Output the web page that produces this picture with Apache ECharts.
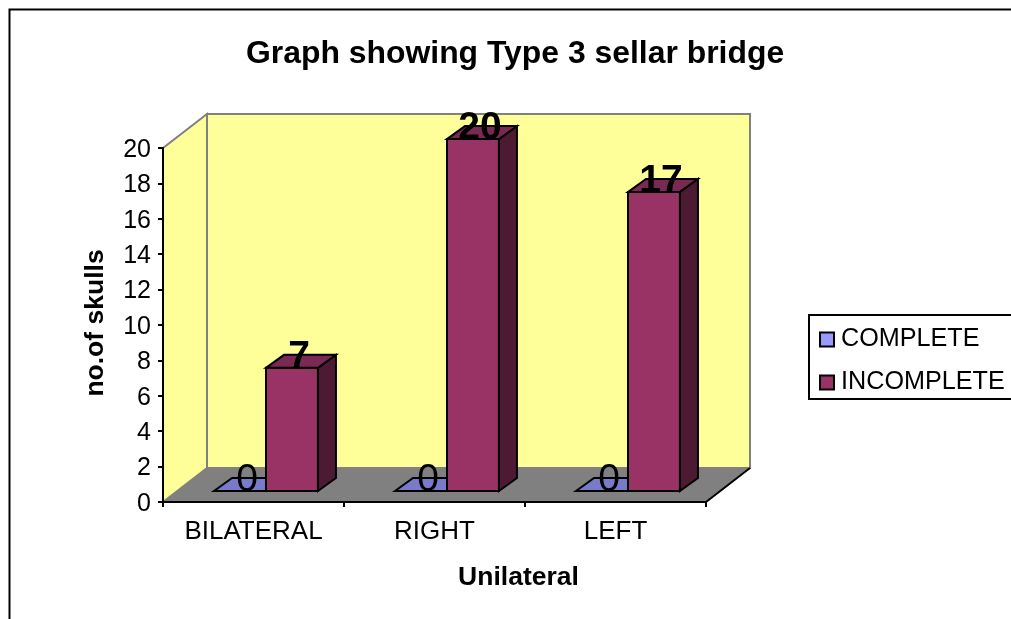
<!DOCTYPE html>
<html lang="en">

<head>
  <meta charset="UTF-8">
  <script src="https://cdn.jsdelivr.net/npm/echarts@6/dist/echarts.min.js"></script>
  <title>Type 3 sellar bridge</title>
  <style>
    html, body { margin: 0; padding: 0; background: #fff; }
    .container { width: 1011px; height: 619px; }
  </style>
</head>

<body>
  <div class="container"></div>

  <script>
    const categories = ["BILATERAL", "RIGHT", "LEFT"];
    const completeValues = [0, 0, 0];
    const incompleteValues = [7, 20, 17];
    const yTicks = { min: 0, max: 20, interval: 2 };

    const font = "Liberation Sans";
    // depth of the fake 3D box, in pixels
    const wallDx = 44, wallDy = -34;
    const barShiftX = 12.5, barShiftY = -11;
    const barDx = 18, barDy = -13;
    const barBand = 0.287;
    // bars stand further back than the axis, so they come out a little shorter
    const barScale = 0.994;

    const poly = (points, fill, stroke, z2) => ({
      type: "polygon",
      z2: z2 || 0,
      shape: { points },
      style: { fill, stroke: stroke || "none", lineWidth: 2, lineJoin: "miter" },
    });

    const renderWalls = (params) => {
      const g = params.coordSys;
      const l = g.x, r = g.x + g.width, t = g.y, b = g.y + g.height;
      return {
        type: "group",
        children: [
          poly([[l + wallDx, t + wallDy], [r + wallDx, t + wallDy], [r + wallDx, b + wallDy], [l + wallDx, b + wallDy]], "#FFFF99", "#808080"),
          poly([[l, t], [l + wallDx, t + wallDy], [l + wallDx, b + wallDy], [l, b]], "#FFFF99", "#808080"),
          poly([[l, b], [l + wallDx, b + wallDy], [r + wallDx, b + wallDy], [r, b]], "#808080", "none"),
          { type: "line", shape: { x1: r, y1: b, x2: r + wallDx, y2: b + wallDy }, style: { stroke: "#000", lineWidth: 2 } },
        ],
      };
    };

    // slot: 0 is the left bar in a category, 1 the right one
    const makeBarRenderer = (slot, front, top, side, labelWeight) => (params, api) => {
      const base = api.coord([api.value(0), 0]);
      const head = api.coord([api.value(0), api.value(1)]);
      const w = api.size([1, 0])[0] * barBand;
      const x0 = base[0] + barShiftX + (slot - 1) * w;
      const x1 = x0 + w;
      const yb = base[1] + barShiftY;
      const yt = yb - (base[1] - head[1]) * barScale;
      const children = [];
      if (api.value(1) > 0) {
        children.push(poly([[x0, yb], [x1, yb], [x1, yt], [x0, yt]], front, "#000"));
        children.push(poly([[x1, yb], [x1 + barDx, yb + barDy], [x1 + barDx, yt + barDy], [x1, yt]], side, "#000"));
      }
      children.push(poly([[x0, yt], [x1, yt], [x1 + barDx, yt + barDy], [x0 + barDx, yt + barDy]], top, "#000"));
      children.push({
        type: "text",
        z2: 10,
        style: {
          x: (x0 + x1 + barDx) / 2 - 2,
          y: yt + 9,
          text: String(api.value(1)),
          fill: "#000",
          font: labelWeight + " 39px '" + font + "'",
          align: "center",
          verticalAlign: "bottom",
        },
      });
      return { type: "group", children };
    };

    const toData = (values) => values.map((v, i) => [i, v]);

    const chart = echarts.init(document.querySelector(".container"));
    chart.setOption({
      animation: false,
      backgroundColor: "#fff",
      textStyle: { fontFamily: font, color: "#000" },
      graphic: [{
        type: "rect",
        silent: true,
        shape: { x: 9.5, y: 9.5, width: 1100, height: 700 },
        style: { fill: "none", stroke: "#000", lineWidth: 2 },
      }],
      title: {
        text: "Graph showing Type 3 sellar bridge",
        left: 246,
        top: 38,
        padding: 0,
        textStyle: { fontFamily: font, fontSize: 31.9, fontWeight: "bold", color: "#000" },
      },
      grid: { left: 163, right: 305, top: 148, bottom: 117 },
      legend: {
        left: 809,
        top: 315,
        orient: "vertical",
        padding: [12, 8, 4, 10],
        itemWidth: 14,
        itemHeight: 14,
        itemGap: 18,
        backgroundColor: "#fff",
        borderColor: "#000",
        borderWidth: 2,
        borderRadius: 0,
        textStyle: { fontFamily: font, fontSize: 25.2, color: "#000", padding: [0, 0, 0, 2] },
        data: [
          { name: "COMPLETE", icon: "rect", itemStyle: { color: "#9999FF", borderColor: "#000", borderWidth: 2 } },
          { name: "INCOMPLETE", icon: "rect", itemStyle: { color: "#993366", borderColor: "#000", borderWidth: 2 } },
        ],
      },
      xAxis: {
        type: "category",
        data: categories,
        z: 5,
        name: "Unilateral",
        nameLocation: "middle",
        nameGap: 62,
        nameTextStyle: { fontFamily: font, fontSize: 26.5, fontWeight: "bold", color: "#000", padding: [0, 0, 0, 168] },
        axisLine: { lineStyle: { color: "#000", width: 2 } },
        axisTick: { show: true, alignWithLabel: false, length: 5, lineStyle: { color: "#000", width: 2 } },
        axisLabel: { fontFamily: font, fontSize: 26, color: "#000", margin: 17 },
      },
      yAxis: {
        type: "value",
        min: yTicks.min,
        max: yTicks.max,
        interval: yTicks.interval,
        z: 5,
        name: "no.of skulls",
        nameLocation: "middle",
        nameRotate: 90,
        nameGap: 54,
        nameTextStyle: { fontFamily: font, fontSize: 26.5, fontWeight: "bold", color: "#000", padding: [0, 0, 0, 4] },
        axisLine: { show: true, lineStyle: { color: "#000", width: 2 } },
        axisTick: { show: true, length: 5, lineStyle: { color: "#000", width: 2 } },
        axisLabel: {
          margin: 12,
          formatter: "{t|{value}}",
          rich: { t: { fontFamily: font, fontSize: 25, color: "#000", padding: [4, 0, 0, 0] } },
        },
        splitLine: { show: false },
      },
      series: [
        { name: "walls", type: "custom", z: 1, silent: true, renderItem: renderWalls, data: [[0, 0]] },
        {
          name: "COMPLETE",
          type: "custom",
          z: 2,
          itemStyle: { color: "#9999FF" },
          renderItem: makeBarRenderer(0, "#9999FF", "#7A7ACC", "#4D4D80", "normal"),
          data: toData(completeValues),
        },
        {
          name: "INCOMPLETE",
          type: "custom",
          z: 3,
          itemStyle: { color: "#993366" },
          renderItem: makeBarRenderer(1, "#993366", "#7A2952", "#4D1A33", "bold"),
          data: toData(incompleteValues),
        },
      ],
    });
  </script>
</body>

</html>
